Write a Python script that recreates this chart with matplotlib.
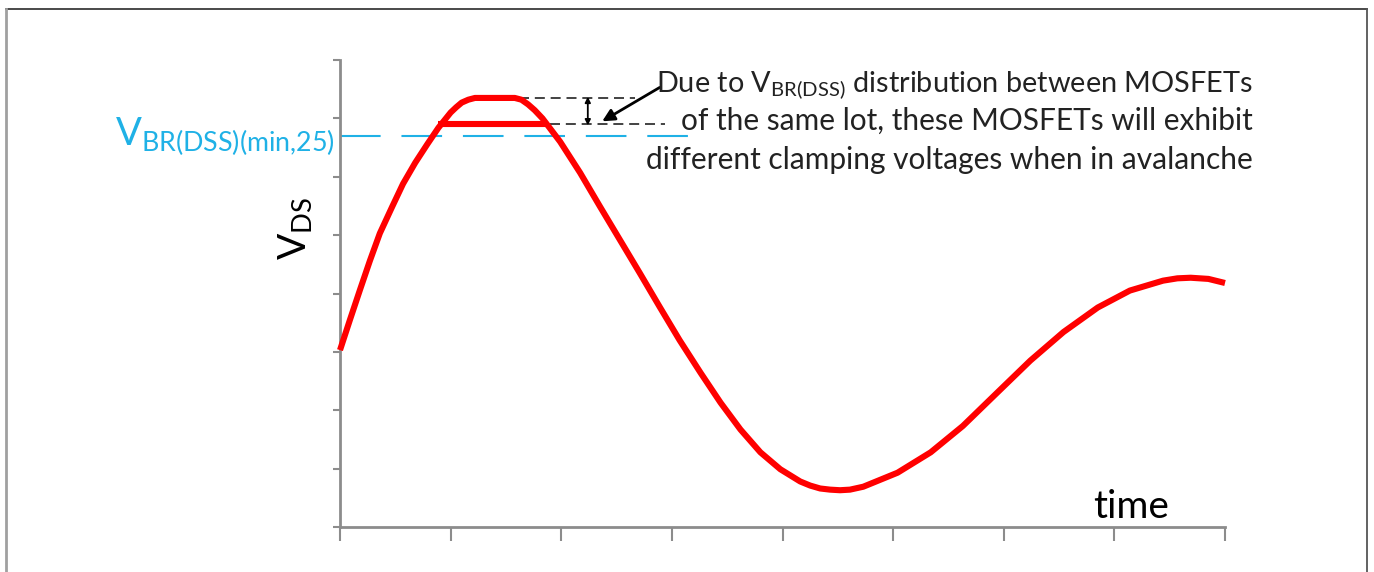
import numpy as np
import matplotlib.pyplot as plt
from matplotlib.lines import Line2D

plt.rcParams['font.family'] = ['Lato', 'DejaVu Sans']
plt.rcParams['mathtext.fontset'] = 'custom'
plt.rcParams['mathtext.rm'] = 'Lato'

# V_DS waveform (upper clamp)
t_wave = [0.0, 0.09, 0.18, 0.27, 0.36, 0.47, 0.57, 0.68, 0.79, 0.89,
          1.00, 1.05, 1.10, 1.16, 1.22, 1.58, 1.64, 1.70, 1.76, 1.83,
          1.99, 2.17, 2.35, 2.53, 2.71, 2.89, 3.07, 3.26, 3.44, 3.62,
          3.80, 3.98, 4.16, 4.25, 4.34, 4.43, 4.52, 4.61, 4.73, 5.04,
          5.34, 5.63, 5.94, 6.24, 6.54, 6.85, 7.14, 7.44, 7.57, 7.69,
          7.85, 8.0]
v_wave = [3.03, 3.55, 4.06, 4.56, 5.03, 5.48, 5.88, 6.24, 6.56, 6.84,
          7.10, 7.19, 7.27, 7.32, 7.35, 7.35, 7.32, 7.24, 7.14, 7.00,
          6.60, 6.07, 5.49, 4.92, 4.35, 3.77, 3.20, 2.64, 2.13, 1.67,
          1.28, 0.99, 0.78, 0.71, 0.66, 0.64, 0.63, 0.64, 0.69, 0.93,
          1.28, 1.73, 2.30, 2.85, 3.34, 3.76, 4.05, 4.22, 4.26, 4.27,
          4.25, 4.18]

# lower clamp level of the second MOSFET
t_clamp = [0.89, 1.87]
v_clamp = [6.90, 6.90]

v_br_min = 6.70
t_br = [0.0, 3.25]

note_lines = ['Due to $\\mathregular{V_{BR(DSS)}}$ distribution between MOSFETs',
              'of the same lot, these MOSFETs will exhibit',
              'different clamping voltages when in avalanche']
note_y = [7.45, 6.80, 6.13]
note_size = [20.8, 21.5, 21.5]

red = '#ff0000'
blue = '#1fb1e6'
grey = '#8c8c8c'

fig = plt.figure(figsize=(13.74, 5.72), dpi=100)
ax = fig.add_axes([340 / 1374, 45 / 572, 885 / 1374, 467 / 572])

ax.plot(t_br, [v_br_min, v_br_min], color=blue, lw=1.5, ls=(0, (19.5, 10)),
        clip_on=False, zorder=1)
ax.plot(t_wave, v_wave, color=red, lw=4.4, solid_capstyle='butt',
        solid_joinstyle='round', clip_on=False, zorder=3)
ax.plot(t_clamp, v_clamp, color=red, lw=4.4, solid_capstyle='butt', zorder=3)

# dashed guides at both clamping levels
ax.plot([1.62, 2.67], [7.35, 7.35], color='#222222', lw=1.2,
        ls=(0, (6, 3.5)), clip_on=False)
ax.plot([1.90, 2.94], [6.90, 6.90], color='#222222', lw=1.2,
        ls=(0, (6, 3.5)), clip_on=False)
ax.annotate('', xy=(2.24, 7.37), xytext=(2.24, 6.88),
            arrowprops=dict(arrowstyle='<|-|>', color='black', lw=1.3,
                            mutation_scale=8, shrinkA=0, shrinkB=0))
ax.annotate('', xy=(2.37, 6.95), xytext=(2.89, 7.53),
            arrowprops=dict(arrowstyle='-|>', color='black', lw=2.0,
                            mutation_scale=18, shrinkA=0, shrinkB=0),
            annotation_clip=False)

for line, y, size in zip(note_lines, note_y, note_size):
    ax.text(8.25, y, line, ha='right', va='baseline', fontsize=size,
            color='#222222', clip_on=False)

ax.text(-0.05, v_br_min, '$\\mathregular{V_{BR(DSS)(min{,}25)}}$',
        ha='right', va='center', color=blue, fontsize=27.5, clip_on=False)

ax.set_ylabel('$\\mathregular{V_{DS}}$', fontsize=28, color='black',
              labelpad=0)
ax.yaxis.set_label_coords(-0.029, 0.64)
ax.text(7.15, 0.35, 'time', fontsize=28, color='black', ha='center',
        va='center')

ax.set_xlim(0, 8)
ax.set_ylim(0, 8)
ax.set_xticks(np.arange(0, 9))
ax.set_yticks(np.arange(0, 9))
ax.set_xticklabels([])
ax.set_yticklabels([])
for s in ['top', 'right']:
    ax.spines[s].set_visible(False)
for s in ['left', 'bottom']:
    ax.spines[s].set_color(grey)
    ax.spines[s].set_linewidth(2)
ax.tick_params(axis='x', length=10, width=1.5, color=grey, direction='out')
ax.tick_params(axis='y', length=5, width=1.5, color=grey, direction='out')

# outer frame of the figure
fig.add_artist(Line2D([6 / 1374, 1367 / 1374], [1 - 9 / 572, 1 - 9 / 572],
                      color='#3a3a3a', lw=1.3))
fig.add_artist(Line2D([6 / 1374, 6 / 1374], [0, 1 - 9 / 572],
                      color='#a0a0a0', lw=2))
fig.add_artist(Line2D([1367 / 1374, 1367 / 1374], [0, 1 - 9 / 572],
                      color='#555555', lw=1.3))

fig.savefig('out.png', dpi=100)
